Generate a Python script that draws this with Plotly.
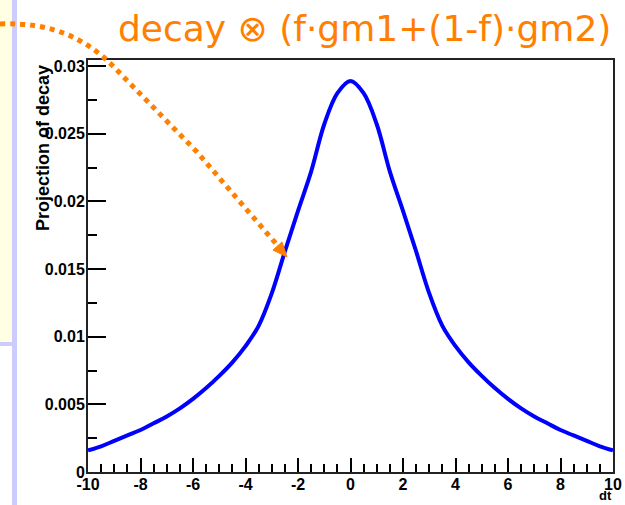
import plotly.graph_objects as go

# ---- data ----
dt_values = [-10.0, -9.5, -9.0, -8.5, -8.0, -7.5, -7.0, -6.5, -6.0, -5.5, -5.0,
             -4.5, -4.0, -3.5, -3.0, -2.5, -2.0, -1.5, -1.0, -0.5, 0.0,
             0.5, 1.0, 1.5, 2.0, 2.5, 3.0, 3.5, 4.0, 4.5, 5.0,
             5.5, 6.0, 6.5, 7.0, 7.5, 8.0, 8.5, 9.0, 9.5, 10.0]
projection = [0.0016, 0.0019, 0.0023, 0.0027, 0.0031, 0.0036, 0.0041, 0.0047, 0.0054, 0.0062, 0.0071,
              0.0081, 0.0093, 0.0108, 0.0132, 0.0163, 0.0193, 0.0222, 0.0257, 0.0280, 0.0289,
              0.0280, 0.0257, 0.0222, 0.0193, 0.0163, 0.0132, 0.0108, 0.0093, 0.0081, 0.0071,
              0.0062, 0.0054, 0.0047, 0.0041, 0.0036, 0.0031, 0.0027, 0.0023, 0.0019, 0.0016]
x_tick_vals = [-10, -8, -6, -4, -2, 0, 2, 4, 6, 8, 10]
x_tick_text = ["-10", "-8", "-6", "-4", "-2", "0", "2", "4", "6", "8", "10"]
y_tick_vals = [0, 0.005, 0.01, 0.015, 0.02, 0.025, 0.03]
y_tick_text = ["0", "0.005", "0.01", "0.015", "0.02", "0.025", "0.03"]
title_text = "decay \u2297 (f\u00b7gm1+(1-f)\u00b7gm2)"
y_title = "Projection of decay"
x_title = "dt"

W, H = 625, 505
L, R, T, B = 88, 12, 60, 33
PW, PH = W - L - R, H - T - B

def px(x):
    return (x - L) / PW

def py(y):
    return (H - B - y) / PH

ORANGE = "#FF8000"
LAV = "#CCCCFF"

fig = go.Figure()
fig.add_trace(go.Scatter(x=dt_values, y=projection, mode="lines",
                         line=dict(color="#0000FF", width=4, shape="spline"),
                         showlegend=False, hoverinfo="skip"))

shapes = []
# left slide decorations
shapes.append(dict(type="rect", xref="paper", yref="paper", x0=px(0), x1=px(12), y0=py(342), y1=py(0),
                   fillcolor="#FFFFE4", line=dict(width=0), layer="above"))
shapes.append(dict(type="rect", xref="paper", yref="paper", x0=px(0), x1=px(12), y0=py(346), y1=py(342),
                   fillcolor=LAV, line=dict(width=0), layer="above"))
shapes.append(dict(type="rect", xref="paper", yref="paper", x0=px(12), x1=px(17), y0=py(505), y1=py(0),
                   fillcolor=LAV, line=dict(width=0), layer="above"))

# dotted orange arrow
pts = [("M", [(0, 24)]), ("C", [(55, 22), (85, 40), (110, 63)]), ("L", [(197, 152)]), ("L", [(278, 246)])]
path = ""
for cmd, ps in pts:
    path += cmd + " " + " ".join(f"{px(a):.5f},{py(b):.5f}" for a, b in ps) + " "
shapes.append(dict(type="path", xref="paper", yref="paper", path=path.strip(),
                   line=dict(color=ORANGE, width=5, dash="dot"), layer="above"))
tri = [(287, 257), (282, 242), (273, 250)]
tpath = "M " + " L ".join(f"{px(a):.5f},{py(b):.5f}" for a, b in tri) + " Z"
shapes.append(dict(type="path", xref="paper", yref="paper", path=tpath,
                   fillcolor=ORANGE, line=dict(color=ORANGE, width=1), layer="above"))

tick_font = dict(family="Liberation Sans", size=16, color="black", weight="bold")

fig.update_layout(
    width=W, height=H,
    margin=dict(l=L, r=R, t=T, b=B, autoexpand=False),
    paper_bgcolor="white", plot_bgcolor="white",
    shapes=shapes,
    xaxis=dict(range=[-10, 10], showgrid=False, zeroline=False, automargin=False,
               showline=True, linecolor="#222222", linewidth=2, mirror=True,
               ticks="inside", ticklen=14, tickwidth=2, tickcolor="black",
               tickvals=x_tick_vals, ticktext=x_tick_text, tickfont=tick_font,
               ticklabelstandoff=-3,
               minor=dict(ticks="inside", ticklen=8, tickwidth=2, tickcolor="black", dtick=0.5, showgrid=False)),
    yaxis=dict(range=[0, 0.03045], showgrid=False, zeroline=False, automargin=False,
               showline=True, linecolor="#222222", linewidth=2, mirror=True,
               ticks="inside", ticklen=18, tickwidth=2, tickcolor="black",
               tickvals=y_tick_vals, ticktext=y_tick_text, tickfont=tick_font,
               ticklabelstandoff=-2,
               minor=dict(ticks="inside", ticklen=9, tickwidth=2, tickcolor="black", dtick=0.0025, showgrid=False)),
    annotations=[
        dict(text=title_text, xref="paper", yref="paper", x=px(613), y=py(29),
             xanchor="right", yanchor="middle", showarrow=False,
             font=dict(family="DejaVu Sans", size=36, color=ORANGE)),
        dict(text=y_title, xref="paper", yref="paper", x=px(43), y=py(148),
             xanchor="center", yanchor="middle", textangle=-90, showarrow=False,
             font=dict(family="Liberation Sans", size=18, color="black", weight="bold")),
        dict(text=x_title, xref="paper", yref="paper", x=px(613), y=py(504),
             xanchor="right", yanchor="bottom", showarrow=False, borderpad=0,
             font=dict(family="Liberation Sans", size=13, color="black", weight="bold")),
    ],
)

fig.write_html("out.html", config={"displayModeBar": False},
               post_script="document.body.style.margin='0';document.body.style.overflow='hidden';")
